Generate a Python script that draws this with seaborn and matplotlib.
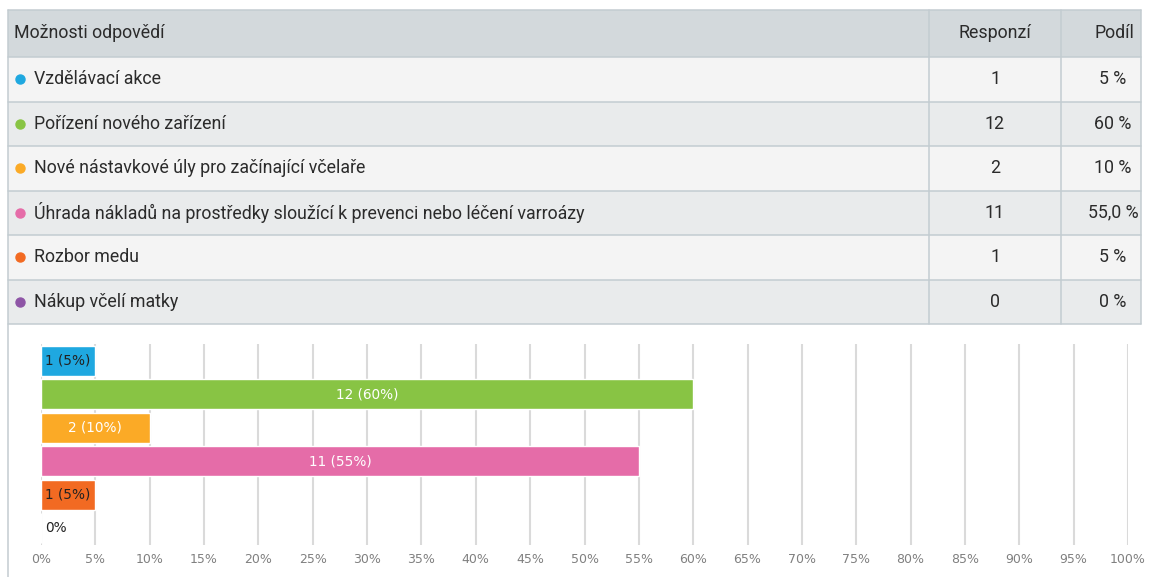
import matplotlib
matplotlib.use("Agg")
import matplotlib.pyplot as plt
from matplotlib.patches import Rectangle
import seaborn as sns
import pandas as pd

# Data
options = [
    "Vzdělávací akce",
    "Pořízení nového zařízení",
    "Nové nástavkové úly pro začínající včelaře",
    "Úhrada nákladů na prostředky sloužící k prevenci nebo léčení varroázy",
    "Rozbor medu",
    "Nákup včelí matky",
]
responses = [1, 12, 2, 11, 1, 0]
percent = [5, 60, 10, 55, 5, 0]
share_text = ["5 %", "60 %", "10 %", "55,0 %", "5 %", "0 %"]
colors = ["#1fa8e0", "#88c444", "#fbaa26", "#e56ca8", "#f26a22", "#8e55a6"]
x_ticks = list(range(0, 101, 5))

df = pd.DataFrame({"option": options, "responses": responses, "percent": percent})

sns.set_theme(style="white")
plt.rcParams["font.family"] = ["DejaVu Sans"]

fig = plt.figure(figsize=(11.54, 5.77), dpi=100)

# ---- table part (pixel coordinates) ----
tab = fig.add_axes([0, 0, 1, 1])
tab.set_xlim(0, 1154)
tab.set_ylim(577, 0)
tab.axis("off")

line_c = "#c3ccd1"
tfont = dict(family=["Roboto", "DejaVu Sans"], fontsize=12.8, color="#2b2b2b")
top, head_h, row_h = 10, 47, 44.5
left, right = 8, 1141
col1, col2 = 929, 1061

tab.add_patch(Rectangle((left, top), right - left, head_h, facecolor="#d3d9dc", edgecolor="none"))
tab.text(14, top + head_h / 2, "Možnosti odpovědí", va="center", ha="left", **tfont)
tab.text(995, top + head_h / 2, "Responzí", va="center", ha="center", **tfont)
tab.text(1114, top + head_h / 2, "Podíl", va="center", ha="center", **tfont)

for i, (opt, r, s, c) in enumerate(zip(options, responses, share_text, colors)):
    y0 = top + head_h + i * row_h
    bg = "#f4f4f4" if i % 2 == 0 else "#e9ebec"
    tab.add_patch(Rectangle((left, y0), right - left, row_h, facecolor=bg, edgecolor="none"))
    yc = y0 + row_h / 2
    tab.plot([20], [yc], "o", color=c, markersize=6.5)
    tab.text(34, yc, opt, va="center", ha="left", **tfont)
    tab.text(995, yc, str(r), va="center", ha="center", **tfont)
    tab.text(1113, yc, s, va="center", ha="center", **tfont)

bottom = top + head_h + len(options) * row_h
for k in range(len(options) + 2):
    yl = top + (head_h + (k - 1) * row_h if k > 0 else 0)
    tab.plot([left, right], [yl, yl], color=line_c, lw=1.1)
tab.plot([left, left], [top, 577], color=line_c, lw=1.1)
tab.plot([right, right], [top, bottom], color=line_c, lw=1.1)
for xc in (col1, col2):
    tab.plot([xc, xc], [top, bottom], color=line_c, lw=1.1)

# ---- bar chart ----
ax = fig.add_axes([41 / 1154, 1 - 545 / 577, 1087 / 1154, 201 / 577])
sns.barplot(data=df, y="option", x="percent", hue="option", palette=colors,
            orient="h", width=0.9, saturation=1, legend=False, ax=ax, zorder=3,
            edgecolor="white", linewidth=1)
ax.set_xlim(0, 100)
ax.set_xticks(x_ticks)
ax.set_xticklabels([f"{t}%" for t in x_ticks], color="#808080", fontsize=9)
ax.set_yticks([])
ax.set_xlabel("")
ax.set_ylabel("")
ax.grid(axis="x", color="#dadada", lw=1.5, zorder=0)
for sp in ax.spines.values():
    sp.set_visible(False)
ax.tick_params(axis="x", length=0, pad=6)
ax.patch.set_alpha(0)

for i, (r, p) in enumerate(zip(responses, percent)):
    if p == 0:
        ax.text(0.4, i, "0%", va="center", ha="left", fontsize=9.8, color="#222222", zorder=4)
    else:
        lab = f"{r} ({p}%)"
        tc = "white" if p >= 10 else "#222222"
        ax.text(p / 2, i, lab, va="center", ha="center", fontsize=9.8, color=tc, zorder=4)

fig.savefig("out.png", dpi=100)
